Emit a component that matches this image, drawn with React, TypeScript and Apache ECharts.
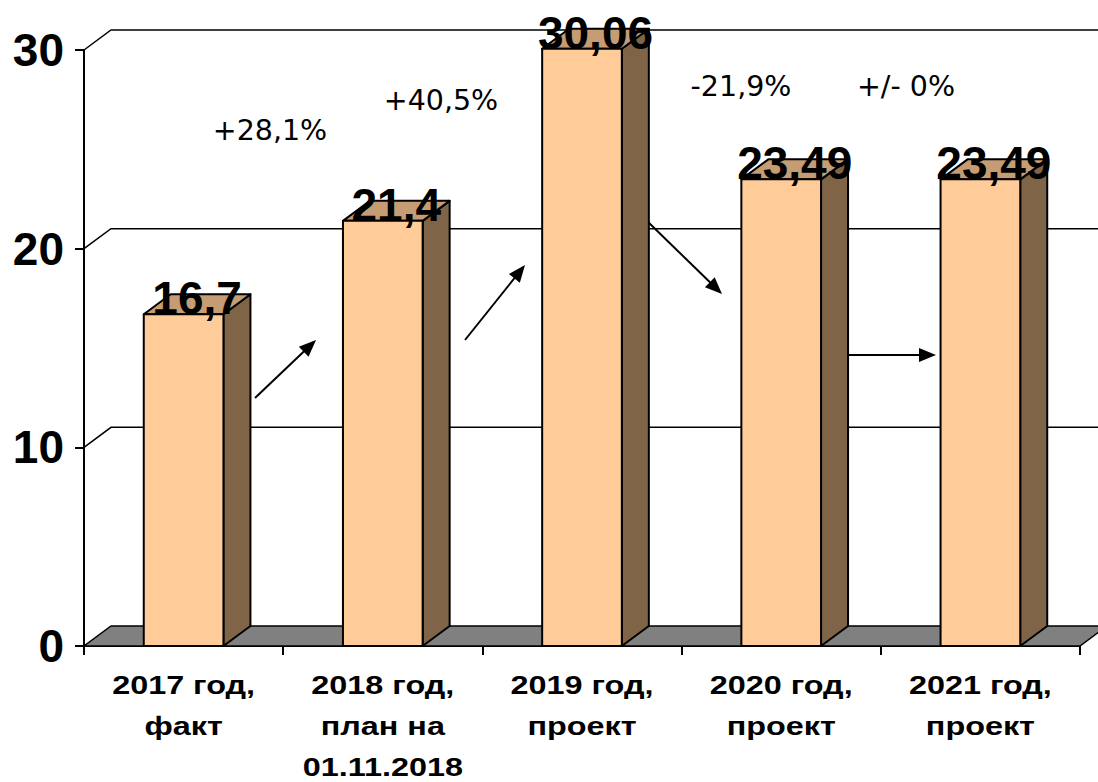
import React, { useEffect, useRef } from "react";
import * as echarts from "echarts";

const categories = [
  "2017 год,\nфакт",
  "2018 год,\nплан на\n01.11.2018",
  "2019 год,\nпроект",
  "2020 год,\nпроект",
  "2021 год,\nпроект",
];
const values = [16.7, 21.4, 30.06, 23.49, 23.49];
const valueLabels = ["16,7", "21,4", "30,06", "23,49", "23,49"];
const gridTicks = [0, 10, 20, 30];
const changeLabels = ["+28,1%", "+40,5%", "-21,9%", "+/- 0%"];

const DX = 27;
const DY = -20;
const changePositions = [
  [270, 130],
  [441, 100],
  [741, 86],
  [906, 86],
];
const arrowPaths = [
  [255, 398, 316, 340],
  [465, 340, 525, 265],
  [646, 220, 722, 294],
  [846, 355, 936, 355],
];

function arrow(x1: number, y1: number, x2: number, y2: number) {
  const ang = Math.atan2(y2 - y1, x2 - x1);
  const L = 17;
  const W = 7;
  const c = Math.cos(ang);
  const s = Math.sin(ang);
  const bx = x2 - L * c;
  const by = y2 - L * s;
  return {
    type: "group",
    children: [
      {
        type: "line",
        shape: { x1, y1, x2: bx + 2 * c, y2: by + 2 * s },
        style: { stroke: "#000", lineWidth: 2 },
      },
      {
        type: "polygon",
        shape: {
          points: [
            [x2, y2],
            [bx - W * s, by + W * c],
            [bx + W * s, by - W * c],
          ],
        },
        style: { fill: "#000" },
      },
    ],
  };
}

export default function App() {
  const ref = useRef<HTMLDivElement>(null);
  useEffect(() => {
    if (!ref.current) return;
    const chart = echarts.init(ref.current, null, { renderer: "svg" });
    const option: any = {
      animation: false,
      backgroundColor: "#fff",
      grid: {
        left: 84,
        right: 18,
        top: 50,
        bottom: 136,
        containLabel: false,
        outerBoundsMode: "none",
      },
      xAxis: {
        type: "category",
        data: categories,
        boundaryGap: true,
        axisLine: { lineStyle: { color: "#000", width: 2 } },
        axisTick: { show: true, length: 9, lineStyle: { color: "#000", width: 2 } },
        axisLabel: { show: false },
        splitLine: { show: false },
      },
      yAxis: {
        type: "value",
        min: 0,
        max: 30,
        interval: 10,
        axisLine: { show: true, lineStyle: { color: "#000", width: 2 } },
        axisTick: { show: true, length: 9, lineStyle: { color: "#000", width: 2 } },
        axisLabel: {
          margin: 20,
          color: "#000",
          fontSize: 46,
          fontWeight: "bold",
          fontFamily: "Liberation Sans, Arial, sans-serif",
        },
        splitLine: { show: false },
      },
      series: [
        {
          type: "custom",
          z: 1,
          silent: true,
          data: gridTicks.map((v) => [0, v]),
          encode: { x: 0, y: 1 },
          renderItem: (params: any, api: any) => {
            const v = api.value(1);
            const cs = params.coordSys;
            const x0 = cs.x;
            const x1 = cs.x + cs.width;
            const y = api.coord([0, v])[1];
            if (v === 0) {
              return {
                type: "polygon",
                shape: {
                  points: [
                    [x0, y],
                    [x1, y],
                    [x1 + DX, y + DY],
                    [x0 + DX, y + DY],
                  ],
                },
                style: { fill: "#808080", stroke: "#000", lineWidth: 1.5 },
              };
            }
            return {
              type: "polyline",
              shape: {
                points: [
                  [x0, y],
                  [x0 + DX, y + DY],
                  [x1 + DX + 40, y + DY],
                ],
              },
              style: { stroke: "#000", lineWidth: 1.5, fill: null },
            };
          },
        },
        {
          type: "custom",
          z: 3,
          data: values.map((v, i) => [i, v]),
          encode: { x: 0, y: 1 },
          renderItem: (params: any, api: any) => {
            const idx = api.value(0);
            const v = api.value(1);
            const top = api.coord([idx, v]);
            const base = api.coord([idx, 0]);
            const bw = api.size([1, 0])[0] * 0.4;
            const xl = top[0] - bw / 2;
            const xr = top[0] + bw / 2;
            const yt = top[1];
            const yb = base[1];
            const stroke = { stroke: "#000", lineWidth: 2, lineJoin: "round" };
            return {
              type: "group",
              children: [
                {
                  type: "polygon",
                  shape: {
                    points: [
                      [xr, yt],
                      [xr + DX, yt + DY],
                      [xr + DX, yb + DY],
                      [xr, yb],
                    ],
                  },
                  style: { fill: "#806448", ...stroke },
                },
                {
                  type: "polygon",
                  shape: {
                    points: [
                      [xl, yt],
                      [xl + DX, yt + DY],
                      [xr + DX, yt + DY],
                      [xr, yt],
                    ],
                  },
                  style: { fill: "#C59C74", ...stroke },
                },
                {
                  type: "rect",
                  shape: { x: xl, y: yt, width: bw, height: yb - yt },
                  style: { fill: "#FFCC99", ...stroke },
                },
                {
                  type: "text",
                  style: {
                    text: valueLabels[idx],
                    x: top[0] + DX / 2,
                    y: yt - 16,
                    align: "center",
                    verticalAlign: "middle",
                    fontSize: 46,
                    fontWeight: "bold",
                    fontFamily: "Liberation Sans, Arial, sans-serif",
                    fill: "#000",
                  },
                },
                {
                  type: "text",
                  x: top[0],
                  y: yb + 19,
                  scaleX: 1.27,
                  style: {
                    text: categories[idx],
                    x: 0,
                    y: 0,
                    align: "center",
                    verticalAlign: "top",
                    lineHeight: 41,
                    fontSize: 25.5,
                    fontWeight: "bold",
                    fontFamily: "Liberation Sans, Arial, sans-serif",
                    fill: "#000",
                  },
                },
              ],
            };
          },
        },
      ],
      graphic: [
        ...changeLabels.map((t, i) => ({
          type: "text",
          z: 10,
          style: {
            text: t,
            x: changePositions[i][0],
            y: changePositions[i][1],
            align: "center",
            verticalAlign: "middle",
            fontSize: 28.5,
            fontFamily: "DejaVu Sans, Verdana, sans-serif",
            fill: "#000",
          },
        })),
        ...arrowPaths.map((a) => ({ ...arrow(a[0], a[1], a[2], a[3]), z: 10 })),
      ],
    };
    chart.setOption(option);
    return () => chart.dispose();
  }, []);
  return (
    <div
      ref={ref}
      style={{ position: "absolute", left: 0, top: 0, width: 1098, height: 782 }}
    />
  );
}
